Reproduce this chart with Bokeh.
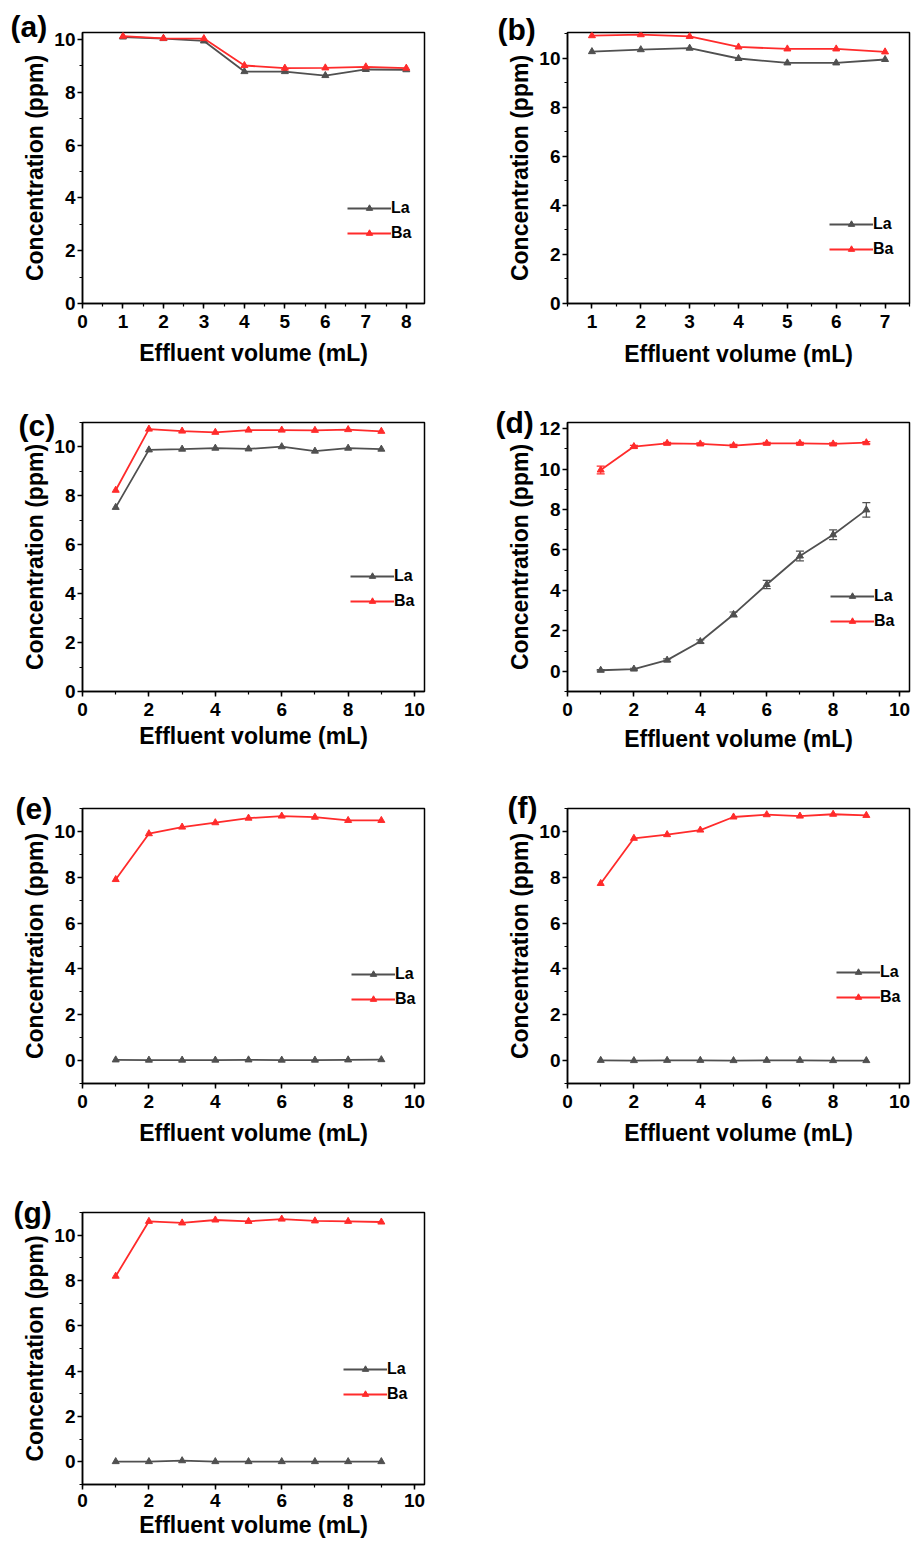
from bokeh.plotting import figure
from bokeh.models import Range1d, SingleIntervalTicker, Whisker, TeeHead, ColumnDataSource
from bokeh.layouts import column, row
from bokeh.embed import file_html
from bokeh.resources import INLINE

# ---------------- data ----------------
x_a = [1, 2, 3, 4, 5, 6, 7, 8]
la_a = [10.09, 10.03, 9.94, 8.78, 8.78, 8.63, 8.86, 8.85]
ba_a = [10.12, 10.04, 10.03, 9.01, 8.91, 8.92, 8.96, 8.91]

x_b = [1, 2, 3, 4, 5, 6, 7]
la_b = [10.27, 10.35, 10.41, 9.99, 9.81, 9.81, 9.95]
ba_b = [10.92, 10.96, 10.89, 10.46, 10.38, 10.38, 10.26]

x_9 = [1, 2, 3, 4, 5, 6, 7, 8, 9]
la_c = [7.53, 9.88, 9.91, 9.95, 9.92, 10.01, 9.83, 9.95, 9.91]
ba_c = [8.23, 10.73, 10.65, 10.60, 10.69, 10.69, 10.68, 10.71, 10.64]

la_d = [0.05, 0.11, 0.55, 1.47, 2.81, 4.29, 5.70, 6.75, 7.98]
la_d_err = [0.03, 0.04, 0.06, 0.08, 0.12, 0.20, 0.24, 0.24, 0.36]
ba_d = [9.95, 11.11, 11.27, 11.24, 11.16, 11.27, 11.27, 11.24, 11.30]
ba_d_err = [0.19, 0.06, 0.05, 0.05, 0.06, 0.05, 0.05, 0.05, 0.05]

la_e = [0.03, 0.02, 0.02, 0.02, 0.03, 0.02, 0.02, 0.03, 0.04]
ba_e = [7.90, 9.90, 10.19, 10.38, 10.58, 10.67, 10.62, 10.48, 10.48]

la_f = [0.01, 0.00, 0.01, 0.01, 0.00, 0.01, 0.01, 0.00, 0.00]
ba_f = [7.73, 9.70, 9.86, 10.06, 10.63, 10.73, 10.67, 10.75, 10.70]

la_g = [0.01, 0.01, 0.05, 0.01, 0.01, 0.01, 0.01, 0.01, 0.01]
ba_g = [8.19, 10.61, 10.54, 10.67, 10.61, 10.71, 10.63, 10.61, 10.58]

series_names = ["La", "Ba"]
panel_tags = ["(a)", "(b)", "(c)", "(d)", "(e)", "(f)", "(g)"]
x_title = "Effluent volume (mL)"
y_title = "Concentration (ppm)"

# ---------------- style ----------------
FONT = "Liberation Sans"
GRAY = "#505050"
RED = "#ff2b2b"


def panel(tag, xs, la, ba, xr, yr, xint, geom, leg, lab, xstand,
          la_err=None, ba_err=None, tick_stand=6):
    W, H, bl, br, bt, bb = geom
    p = figure(width=W, height=H, x_range=Range1d(*xr), y_range=Range1d(*yr),
               output_backend="svg", toolbar_location=None,
               min_border_left=bl, min_border_right=br,
               min_border_top=bt, min_border_bottom=bb)
    p.xgrid.visible = False
    p.ygrid.visible = False
    p.outline_line_color = "black"
    p.outline_line_width = 1.5
    p.outline_line_alpha = 1.0
    p.background_fill_color = "white"
    p.border_fill_color = "white"

    p.xaxis.ticker = SingleIntervalTicker(interval=xint, num_minor_ticks=2)
    p.yaxis.ticker = SingleIntervalTicker(interval=2, num_minor_ticks=2)
    p.xaxis.axis_label = x_title
    p.yaxis.axis_label = y_title
    for ax in (p.xaxis[0], p.yaxis[0]):
        ax.axis_line_color = "black"
        ax.axis_line_width = 1.5
        ax.major_tick_line_color = "black"
        ax.major_tick_line_width = 1.5
        ax.major_tick_out = 5
        ax.major_tick_in = 0
        ax.minor_tick_line_color = "black"
        ax.minor_tick_line_width = 1.2
        ax.minor_tick_out = 3
        ax.minor_tick_in = 0
        ax.major_label_text_font = FONT
        ax.major_label_text_font_style = "bold"
        ax.major_label_text_font_size = "19px"
        ax.major_label_text_color = "black"
        ax.axis_label_text_font = FONT
        ax.axis_label_text_font_style = "bold"
        ax.axis_label_text_font_size = "23px"
        ax.axis_label_text_color = "black"
    p.xaxis[0].major_label_standoff = tick_stand
    p.yaxis[0].major_label_standoff = 2
    p.xaxis[0].axis_label_standoff = xstand
    p.yaxis[0].axis_label_standoff = 3

    for vals, err, color, name in ((la, la_err, GRAY, series_names[0]),
                                   (ba, ba_err, RED, series_names[1])):
        src = ColumnDataSource(dict(x=xs, y=vals))
        p.line("x", "y", source=src, line_color=color, line_width=1.8,
               legend_label=name)
        p.scatter("x", "y", source=src, marker="triangle", size=7,
                  line_color=color, fill_color=color, legend_label=name)
        if err is not None:
            esrc = ColumnDataSource(dict(
                x=xs,
                upper=[v + e for v, e in zip(vals, err)],
                lower=[v - e for v, e in zip(vals, err)]))
            p.add_layout(Whisker(
                base="x", upper="upper", lower="lower", source=esrc,
                line_color=color, line_width=1.2,
                upper_head=TeeHead(size=8, line_color=color, line_width=1.2),
                lower_head=TeeHead(size=8, line_color=color, line_width=1.2)))

    lg = p.legend[0]
    lg.location = leg
    lg.border_line_alpha = 0
    lg.background_fill_alpha = 0
    lg.padding = 0
    lg.margin = 0
    lg.spacing = 7
    lg.glyph_width = 44
    lg.glyph_height = 16
    lg.label_height = 16
    lg.label_standoff = 0
    lg.label_text_font = FONT
    lg.label_text_font_style = "bold"
    lg.label_text_font_size = "16px"
    lg.label_text_color = "black"

    # panel tag as a left-aligned title pulled down next to the frame corner
    dx, dy = lab
    p.title.text = tag
    p.title.align = "left"
    p.title.offset = dx
    p.title.vertical_align = "bottom"
    p.title.standoff = -2 * (13 - dy)
    p.title.text_font = FONT
    p.title.text_font_style = "bold"
    p.title.text_font_size = "30px"
    p.title.text_color = "black"
    return p


LW, LBL, LBR = 470, 82, 46
RW, RBL, RBR = 442, 97, 3

pa = panel(panel_tags[0], x_a, la_a, ba_a, (0, 8.45), (0, 10.26), 1,
           (LW, 385, LBL, LBR, 32, 79), (265, 61), (-72, 3), 9)
pb = panel(panel_tags[1], x_b, la_b, ba_b, (0.5, 7.5), (0, 11.05), 1,
           (RW, 385, RBL, RBR, 29, 82), (262, 45), (-70, 0), 10)
pc = panel(panel_tags[2], x_9, la_c, ba_c, (0, 10.3), (0, 11.0), 2,
           (LW, 385, LBL, LBR, 31, 79), (268, 81), (-64, -6), 4)
pd = panel(panel_tags[3], x_9, la_d, ba_d, (0, 10.3), (-1, 12.3), 2,
           (RW, 385, RBL, RBR, 37, 75), (263, 61), (-72, -3), 7,
           la_err=la_d_err, ba_err=ba_d_err)
pe = panel(panel_tags[4], x_9, la_e, ba_e, (0, 10.3), (-1, 11.0), 2,
           (LW, 395, LBL, LBR, 38, 82), (269, 75), (-67, -3), 9)
pf = panel(panel_tags[5], x_9, la_f, ba_f, (0, 10.3), (-1, 11.0), 2,
           (RW, 395, RBL, RBR, 38, 81), (269, 77), (-60, -2), 9)
pg = panel(panel_tags[6], x_9, la_g, ba_g, (0, 10.3), (-1, 11.0), 2,
           (LW, 376, LBL, LBR, 47, 57), (261, 81), (-69, -3), 2,
           tick_stand=4)

layout = column(row(pa, pb), row(pc, pd), row(pe, pf), row(pg))
open("out.html", "w").write(file_html(layout, INLINE))
